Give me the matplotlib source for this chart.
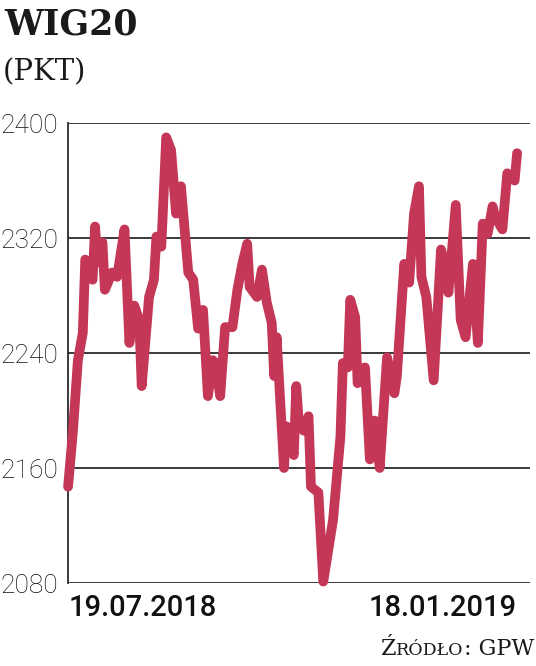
import matplotlib
matplotlib.use('Agg')
import matplotlib.pyplot as plt

# WIG20, od 19.07.2018 do 18.01.2019 (dni od startu, punkty)
days = [0, 2, 4, 6, 7, 10, 11, 12, 14, 15, 18, 20, 23, 25, 27, 29, 30, 33, 35, 36,
        38, 40, 42, 44, 46, 49, 51, 53, 55, 57, 59, 60, 62, 64, 67, 69, 71, 73, 74, 77,
        79, 81, 83, 84, 85, 88, 89, 92, 93, 94, 96, 98, 99, 102, 104, 108, 111, 112, 114, 115,
        117, 118, 121, 123, 125, 127, 130, 133, 134, 137, 139, 141, 143, 144, 146, 149, 152, 154, 155, 158,
        160, 162, 165, 167, 169, 171, 173, 174, 177, 179, 182, 183]
values = [2147, 2186, 2235, 2254, 2305, 2291, 2328, 2303, 2317, 2284, 2296, 2293, 2326, 2247, 2273, 2263, 2217, 2279, 2291, 2321,
          2314, 2390, 2381, 2337, 2356, 2296, 2291, 2257, 2270, 2210, 2235, 2233, 2210, 2258, 2258, 2284, 2302, 2316, 2286, 2279,
          2298, 2275, 2261, 2224, 2251, 2160, 2189, 2169, 2217, 2193, 2186, 2196, 2147, 2143, 2081, 2124, 2182, 2233, 2230, 2277,
          2265, 2219, 2230, 2166, 2193, 2160, 2237, 2212, 2224, 2302, 2289, 2337, 2356, 2293, 2279, 2221, 2312, 2298, 2282, 2343,
          2263, 2251, 2302, 2247, 2330, 2323, 2342, 2335, 2326, 2365, 2360, 2379]
yticks = [2080, 2160, 2240, 2320, 2400]
date_labels = ['19.07.2018', '18.01.2019']

fig = plt.figure(figsize=(5.36, 6.66), dpi=100)
ax = fig.add_axes([0.127, 0.1246, 0.862, 0.6907])

# siatka
for y in yticks:
    ax.axhline(y, color='#2b2b2b', lw=1.3, zorder=1)

ax.plot(days, values, color='#c43756', lw=7, solid_joinstyle='round',
        solid_capstyle='round', zorder=3, clip_on=False)

ax.set_xlim(0, 188.3)
ax.set_ylim(2080, 2400)
for s in ['top', 'right', 'bottom']:
    ax.spines[s].set_visible(False)
ax.spines['left'].set_color('#2b2b2b')
ax.spines['left'].set_linewidth(1.3)

ax.set_yticks(yticks)
ax.set_yticklabels([str(v) for v in yticks], fontfamily='Roboto', fontweight='light',
                   fontsize=19, color='#111111')
ax.tick_params(axis='y', length=0, pad=7)

ax.set_xticks([days[0], days[-1]])
ax.set_xticklabels(date_labels, fontfamily='Roboto', fontweight='medium',
                   fontsize=21, color='#111111')
ax.tick_params(axis='x', length=0, pad=8)
xl = ax.get_xticklabels()
xl[0].set_ha('left')
xl[1].set_ha('right')

fig.text(0.008, 0.988, 'WIG20', fontfamily='DejaVu Serif', fontweight='heavy',
         fontsize=25, va='top', ha='left', color='#1a1a1a')
fig.text(0.005, 0.912, '(PKT)', fontfamily='DejaVu Serif', fontsize=21,
         va='top', ha='left', color='#1a1a1a')

# zrodlo - male kapitaliki skladane z kawalkow
fig.canvas.draw()
r = fig.canvas.get_renderer()
parts = [('Ź', 16), ('RÓDŁO', 12.5), (': GPW', 16)]
texts = []
for txt, size in parts:
    t = fig.text(0, 1 - 655 / 666, txt, fontfamily='DejaVu Serif', fontsize=size,
                 ha='left', va='baseline', color='#1a1a1a')
    texts.append(t)
widths = [t.get_window_extent(renderer=r).width / fig.bbox.width for t in texts]
x = 534 / 536 - sum(widths)
for t, w in zip(texts, widths):
    t.set_x(x)
    x += w

fig.savefig('out.png', dpi=100)
